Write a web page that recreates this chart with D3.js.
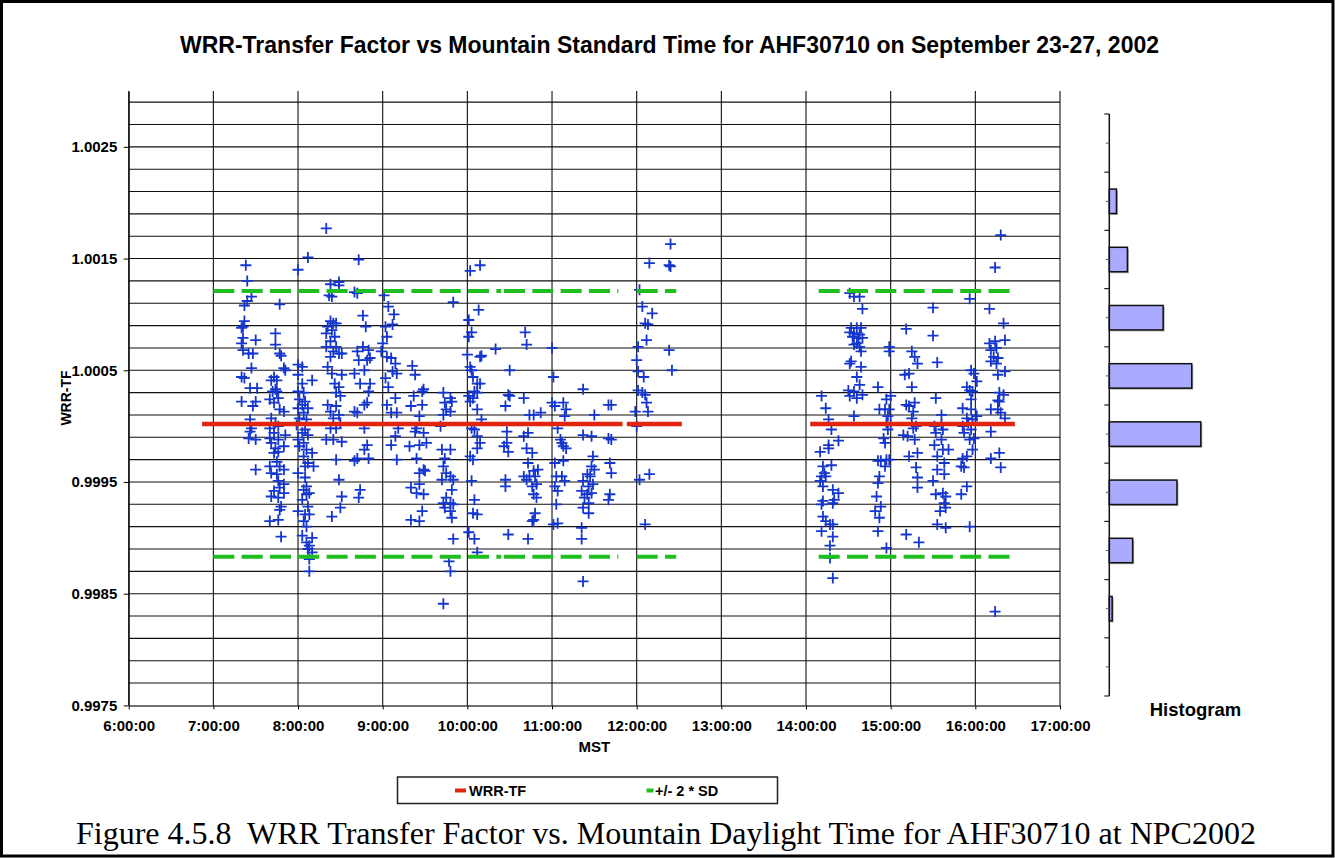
<!DOCTYPE html>
<html>
<head>
<meta charset="utf-8">
<title>WRR-Transfer Factor vs Mountain Standard Time for AHF30710</title>
<script src="https://d3js.org/d3.v7.min.js"></script>
<style>
  body { margin: 0; background: #fff; }
  svg { display: block; font-family: "Liberation Sans", Arial, sans-serif; }
</style>
</head>
<body>
<div id="chart"></div>
<script>
// WRR transfer factor readings, [time MST, WRR-TF]
var morning = [
  ["7:23",1.00144],["7:24",1.00130],["7:27",1.00116],["7:24",1.00112],["7:22",1.00108],["7:22",1.00094],["7:21",1.00089],
  ["7:20",1.00088],["7:21",1.00079],["7:30",1.00077],["7:20",1.00074],["7:25",1.00065],["7:28",1.00065],["7:21",1.00068],
  ["7:27",1.00052],["7:20",1.00044],["7:22",1.00043],["7:26",1.00034],["7:31",1.00034],["7:20",1.00022],["7:30",1.00022],
  ["7:28",1.00018],["7:26",1.00006],["7:27",0.99998],["7:25",0.99989],["7:30",0.99988],["7:26",0.99995],["7:30",0.99961],
  ["7:47",1.00109],["7:44",1.00083],["7:44",1.00073],["7:47",1.00065],["7:48",1.00063],["7:50",1.00052],["7:51",1.00050],
  ["7:43",1.00044],["7:41",1.00041],["7:45",1.00041],["7:44",1.00033],["7:42",1.00031],["7:45",1.00031],["7:40",1.00024],
  ["7:46",1.00025],["7:43",1.00021],["7:50",1.00013],["7:47",1.00015],["7:41",1.00007],["7:44",1.00003],["7:40",0.99998],
  ["7:46",1.00000],["7:43",0.99994],["7:51",0.99992],["7:40",0.99989],["7:46",0.99988],["7:41",0.99985],["7:50",0.99982],
  ["7:44",0.99980],["7:46",0.99977],["7:43",0.99976],["7:45",0.99968],["7:40",0.99964],["7:47",0.99964],["7:41",0.99958],
  ["7:45",0.99957],["7:50",0.99961],["7:46",0.99951],["7:50",0.99948],["7:47",0.99945],["7:43",0.99942],["7:50",0.99940],
  ["7:41",0.99937],["7:46",0.99936],["7:48",0.99928],["7:47",0.99925],["7:46",0.99916],["7:40",0.99915],["7:48",0.99901],
  ["8:00",1.00140],["8:07",1.00151],["8:20",1.00177],
  ["8:00",1.00055],["8:03",1.00053],["8:00",1.00046],["8:10",1.00041],["8:03",1.00038],["8:00",1.00031],["8:04",1.00030],
  ["8:01",1.00024],["8:05",1.00022],["8:03",1.00019],["8:00",1.00016],["8:07",1.00016],["8:04",1.00012],["8:01",1.00007],
  ["8:06",1.00006],["7:59",1.00001],["8:05",0.99997],["8:03",0.99994],["8:07",0.99992],["8:00",0.99988],["8:04",0.99985],
  ["8:01",0.99982],["8:06",0.99979],["8:10",0.99976],["8:04",0.99973],["8:07",0.99967],["8:05",0.99964],["8:11",0.99964],
  ["8:00",0.99958],["8:05",0.99954],["8:06",0.99946],["8:04",0.99943],["8:08",0.99940],["8:06",0.99939],["8:03",0.99934],
  ["8:07",0.99928],["8:00",0.99924],["8:05",0.99921],["8:08",0.99921],["8:04",0.99915],["8:06",0.99910],["8:03",0.99902],
  ["8:10",0.99900],["8:06",0.99896],["8:08",0.99893],["8:07",0.99890],["8:10",0.99887],["8:08",0.99881],["8:08",0.99870],
  ["8:23",1.00127],["8:29",1.00129],["8:29",1.00126],["8:24",1.00116],["8:22",1.00117],
  ["8:23",1.00094],["8:25",1.00092],["8:21",1.00089],["8:27",1.00092],["8:24",1.00086],["8:20",1.00083],["8:26",1.00080],
  ["8:23",1.00076],["8:27",1.00071],["8:20",1.00071],["8:25",1.00067],["8:29",1.00065],["8:23",1.00062],["8:31",1.00065],
  ["8:21",1.00053],["8:24",1.00047],["8:31",1.00046],["8:26",1.00038],["8:29",1.00035],["8:27",1.00030],["8:30",1.00027],
  ["8:21",1.00019],["8:27",1.00018],["8:23",1.00013],["8:29",1.00010],["8:25",1.00007],["8:30",1.00003],["8:23",0.99998],
  ["8:27",0.99998],["8:20",0.99988],["8:25",0.99988],["8:31",0.99986],["8:27",0.99970],["8:29",0.99952],["8:31",0.99937],
  ["8:30",0.99927],["8:24",0.99919],
  ["8:43",1.00149],["8:40",1.00120],["8:42",1.00119],
  ["8:46",1.00099],["8:48",1.00089],["8:46",1.00071],["8:42",1.00067],["8:43",1.00059],["8:50",1.00068],["8:49",1.00059],
  ["8:51",1.00061],["8:40",1.00047],["8:47",1.00050],["8:44",1.00038],["8:51",1.00038],["8:50",1.00031],["8:49",1.00021],
  ["8:47",1.00019],["8:40",1.00013],["8:42",1.00012],["8:47",0.99998],["8:49",0.99983],["8:47",0.99979],["8:50",0.99971],
  ["8:42",0.99971],["8:40",0.99969],["8:44",0.99943],["8:43",0.99936],
  ["9:01",1.00117],["9:04",1.00107],["9:08",1.00100],["9:07",1.00091],["9:02",1.00089],["9:03",1.00080],
  ["9:00",1.00074],["8:59",1.00067],["9:03",1.00062],["9:06",1.00061],["9:09",1.00056],["9:10",1.00047],["9:07",1.00049],
  ["9:02",1.00043],["9:04",1.00035],["9:03",1.00019],["9:09",1.00025],["9:06",1.00012],["9:10",1.00012],["9:11",0.99998],
  ["9:09",0.99991],["9:06",0.99983],["9:10",0.99970],
  ["9:21",1.00054],["9:23",1.00046],["9:22",1.00027],["9:28",1.00031],["9:29",1.00033],["9:20",1.00018],["9:28",1.00019],
  ["9:26",1.00009],["9:24",0.99998],["9:23",0.99995],["9:29",0.99994],["9:19",0.99982],["9:26",0.99983],["9:31",0.99985],
  ["9:24",0.99971],["9:29",0.99961],["9:26",0.99958],["9:30",0.99960],["9:20",0.99945],["9:26",0.99948],["9:24",0.99940],
  ["9:29",0.99939],["9:20",0.99916],["9:26",0.99915],["9:28",0.99924],
  ["9:50",1.00111],["9:43",1.00030],["9:48",1.00025],["9:44",1.00021],["9:49",1.00022],["9:45",1.00015],["9:48",1.00013],
  ["9:43",1.00010],["9:41",1.00000],["9:42",0.99979],["9:48",0.99979],["9:44",0.99971],["9:43",0.99964],["9:45",0.99958],
  ["9:48",0.99955],["9:42",0.99952],["9:50",0.99952],["9:49",0.99943],["9:45",0.99936],["9:43",0.99931],["9:48",0.99931],
  ["9:50",0.99930],["9:44",0.99927],["9:48",0.99924],["9:49",0.99918],["9:50",0.99899],["9:47",0.99879],["9:48",0.99870],
  ["9:43",0.99841],
  ["10:02",1.00139],["10:09",1.00144],["10:08",1.00104],["10:01",1.00095],["10:03",1.00084],["10:01",1.00080],["10:00",1.00064],
  ["10:09",1.00062],["10:10",1.00063],["10:02",1.00053],["10:03",1.00050],["10:04",1.00044],["10:07",1.00038],["10:09",1.00038],
  ["10:05",1.00031],["10:01",1.00027],["10:04",1.00025],["10:07",1.00030],["10:02",1.00022],["10:07",1.00015],["10:10",1.00006],
  ["10:03",0.99998],["10:05",0.99997],["10:07",0.99991],["10:09",0.99985],["10:07",0.99980],["10:02",0.99973],["10:04",0.99970],
  ["10:03",0.99951],["10:05",0.99934],["10:04",0.99922],["10:07",0.99921],["10:01",0.99905],["10:05",0.99899],["10:07",0.99887],
  ["10:20",1.00069],["10:30",1.00050],["10:29",1.00028],["10:27",1.00018],["10:30",1.00027],["10:28",0.99995],["10:26",0.99982],
  ["10:28",0.99985],["10:29",0.99977],["10:27",0.99952],["10:27",0.99946],["10:29",0.99903],
  ["10:41",1.00084],["10:42",1.00073],["10:40",1.00025],["10:44",1.00010],["10:47",1.00010],["10:52",1.00012],["10:40",0.99991],
  ["10:43",0.99994],["10:42",0.99980],["10:46",0.99976],["10:43",0.99967],["10:40",0.99955],["10:42",0.99952],["10:47",0.99960],
  ["10:50",0.99961],["10:44",0.99955],["10:48",0.99955],["10:49",0.99948],["10:46",0.99946],["10:47",0.99939],["10:49",0.99936],
  ["10:48",0.99922],["10:47",0.99916],["10:46",0.99915],["10:43",0.99899],
  ["11:00",1.00070],["11:01",1.00044],["11:00",1.00021],["11:02",1.00018],["11:08",1.00021],["11:10",1.00015],["11:09",1.00009],
  ["11:04",0.99998],["11:06",0.99988],["11:07",0.99985],["11:08",0.99982],["11:10",0.99980],["11:02",0.99967],["11:08",0.99969],
  ["11:03",0.99955],["11:07",0.99955],["11:09",0.99951],["11:02",0.99946],["11:04",0.99942],["11:03",0.99930],["11:01",0.99912],
  ["11:04",0.99913],
  ["11:22",1.00033],["11:30",1.00010],["11:22",0.99992],["11:28",0.99991],["11:29",0.99973],["11:28",0.99964],["11:30",0.99961],
  ["11:25",0.99957],["11:27",0.99955],["11:22",0.99951],["11:26",0.99946],["11:29",0.99948],["11:21",0.99942],["11:25",0.99939],
  ["11:28",0.99940],["11:23",0.99936],["11:26",0.99931],["11:22",0.99927],["11:26",0.99922],["11:21",0.99909],["11:21",0.99899],
  ["11:22",0.99861],
  ["11:40",1.00019],["11:42",1.00019],["11:40",0.99989],["11:42",0.99988],["11:41",0.99967],["11:42",0.99958],["11:41",0.99939],
  ["11:40",0.99934],
  ["12:02",1.00122],["12:04",1.00107],["12:11",1.00101],["12:06",1.00092],["12:08",1.00091],["12:07",1.00077],["12:01",1.00071],
  ["12:00",1.00059],["12:01",1.00049],["12:05",1.00044],["12:01",1.00032],["12:04",1.00030],["12:06",1.00028],["12:07",1.00021],
  ["11:59",1.00013],["12:08",1.00013],["12:00",1.00000],["12:02",0.99952],["12:09",0.99957],["12:06",0.99912],
  ["12:24",1.00163],["12:09",1.00146],["12:23",1.00144],["12:24",1.00143],["12:23",1.00068],["12:25",1.00050]
];

var afternoon = [
  ["14:11",1.00027],["14:14",1.00016],["14:16",1.00006],["14:18",0.99997],["14:23",0.99987],["14:16",0.99983],["14:16",0.99980],
  ["14:10",0.99977],["14:12",0.99964],["14:18",0.99965],["14:13",0.99958],["14:11",0.99955],["14:14",0.99955],["14:10",0.99951],
  ["14:12",0.99946],["14:19",0.99943],["14:23",0.99940],["14:12",0.99933],["14:20",0.99934],["14:19",0.99931],["14:11",0.99930],
  ["14:12",0.99919],["14:14",0.99915],["14:17",0.99912],["14:19",0.99912],["14:11",0.99906],["14:19",0.99901],["14:17",0.99893],
  ["14:17",0.99882],["14:19",0.99864],
  ["14:31",1.00119],["14:34",1.00116],["14:38",1.00116],["14:40",1.00105],["14:32",1.00088],["14:36",1.00088],["14:39",1.00088],
  ["14:31",1.00084],["14:34",1.00083],["14:38",1.00082],["14:33",1.00080],["14:37",1.00079],["14:40",1.00079],["14:36",1.00074],
  ["14:38",1.00071],["14:34",1.00073],["14:39",1.00067],["14:32",1.00058],["14:31",1.00056],["14:39",1.00053],["14:36",1.00044],
  ["14:38",1.00037],["14:30",1.00032],["14:34",1.00031],["14:31",1.00027],["14:36",1.00025],["14:40",1.00028],["14:34",1.00009],
  ["14:59",1.00071],["14:59",1.00067],["14:51",1.00035],["14:57",1.00024],["15:00",1.00027],["14:52",1.00015],["14:56",1.00015],
  ["14:59",1.00015],["14:58",1.00009],["14:57",1.00003],["15:00",1.00003],["14:58",0.99997],["14:55",0.99989],["14:56",0.99985],
  ["14:53",0.99969],["14:51",0.99969],["14:57",0.99970],["14:59",0.99970],["14:56",0.99964],["14:52",0.99955],["14:51",0.99949],
  ["14:50",0.99937],["14:49",0.99924],["14:53",0.99928],["14:52",0.99918],["14:51",0.99906],["14:57",0.99891],
  ["15:11",1.00087],["15:15",1.00067],["15:17",1.00062],["15:19",1.00056],["15:10",1.00046],["15:13",1.00047],["15:15",1.00035],
  ["15:11",1.00019],["15:13",1.00018],["15:17",1.00021],["15:16",1.00013],["15:15",1.00007],["15:18",1.00000],["15:16",0.99998],
  ["15:09",0.99992],["15:12",0.99991],["15:17",0.99988],["15:19",0.99976],["15:13",0.99973],["15:18",0.99963],["15:19",0.99954],
  ["15:19",0.99945],["15:11",0.99903],["15:20",0.99896],
  ["15:30",1.00106],["15:30",1.00081],["15:33",1.00057],["15:32",1.00025],["15:36",1.00010],["15:31",1.00000],["15:36",1.00001],
  ["15:37",0.99997],["15:32",0.99994],["15:36",0.99988],["15:31",0.99983],["15:37",0.99979],["15:41",0.99979],["15:33",0.99973],
  ["15:38",0.99967],["15:33",0.99961],["15:38",0.99957],["15:30",0.99951],["15:32",0.99939],["15:37",0.99940],["15:39",0.99937],
  ["15:38",0.99931],["15:35",0.99924],["15:39",0.99927],["15:33",0.99912],["15:39",0.99909],
  ["15:56",1.00114],["15:57",1.00050],["15:59",1.00047],["16:01",1.00040],["15:54",1.00035],["15:56",1.00032],["15:58",1.00031],
  ["15:57",1.00024],["15:51",1.00016],["15:57",1.00015],["16:01",1.00009],["15:54",1.00007],["15:58",1.00006],["15:51",1.00000],
  ["15:55",1.00003],["15:57",0.99997],["15:52",0.99994],["15:59",0.99989],["15:56",0.99988],["15:58",0.99979],["15:51",0.99971],
  ["15:54",0.99973],["15:52",0.99963],["15:50",0.99964],["15:54",0.99946],["15:50",0.99939],["15:56",0.99910],
  ["16:18",1.00171],["16:14",1.00142],["16:10",1.00105],["16:20",1.00092],["16:10",1.00074],["16:14",1.00076],["16:21",1.00077],
  ["16:11",1.00068],["16:15",1.00070],["16:13",1.00062],["16:16",1.00061],["16:11",1.00058],["16:15",1.00056],["16:16",1.00046],
  ["16:21",1.00049],["16:17",1.00030],["16:20",1.00028],["16:16",1.00023],["16:11",1.00015],["16:16",1.00015],["16:18",1.00012],
  ["16:17",1.00022],["16:21",1.00007],["16:11",0.99995],["16:17",0.99976],["16:11",0.99971],["16:18",0.99963],["16:14",0.99834]
];

// mean and +/- 2 SD lines
var meanValue = 1.00002;
var upperLimit = 1.00121;
var lowerLimit = 0.99883;
var meanSegments = [["6:52","11:50"],["11:53","12:32"],["14:03","16:28"]];
var limitSegments = [["7:00","10:24"],["10:26","11:47"],["12:00","12:28"],["14:09","16:25"]];

// histogram (top to bottom)
var histBins = ["1","2","3","4","5","6","7","8","9","10"];
var histCounts = [0, 15, 38, 113, 173, 192, 142, 49, 6, 0];

var yTicks = [0.9975, 0.9985, 0.9995, 1.0005, 1.0015, 1.0025];
var hourTicks = ["6:00","7:00","8:00","9:00","10:00","11:00","12:00","13:00","14:00","15:00","16:00","17:00"];

var W = 1335, H = 858;
var font = "'Liberation Sans', Arial, sans-serif";
var parseT = d3.timeParse("%H:%M");

var svg = d3.select("#chart").append("svg")
    .attr("width", W)
    .attr("height", H);

// outer frame
svg.append("rect")
    .attr("x", 1.5).attr("y", 1.5)
    .attr("width", W - 3.5).attr("height", H - 3.5)
    .attr("fill", "none")
    .attr("stroke", "#000")
    .attr("stroke-width", 3);

var x = d3.scaleTime()
    .domain([parseT("6:00"), parseT("17:00")])
    .range([128.7, 1060]);
var y = d3.scaleLinear()
    .domain([0.9975, 1.003])
    .range([705.4, 91]);

// gridlines
var hGrid = d3.range(1, 28).map(function(k) { return 0.9975 + k * 0.0002; });
svg.append("g").selectAll("line")
  .data(hGrid)
  .enter().append("line")
    .attr("x1", x.range()[0]).attr("x2", x.range()[1])
    .attr("y1", function(d) { return y(d); })
    .attr("y2", function(d) { return y(d); })
    .attr("stroke", "#111").attr("stroke-width", 1.1);

svg.append("g").selectAll("line")
  .data(hourTicks.map(parseT))
  .enter().append("line")
    .attr("x1", function(d) { return x(d); })
    .attr("x2", function(d) { return x(d); })
    .attr("y1", y.range()[1]).attr("y2", y.range()[0])
    .attr("stroke", "#111").attr("stroke-width", 1.1);

// axes
var yAxis = svg.append("g")
    .attr("transform", "translate(" + x.range()[0] + ",0)")
    .call(d3.axisLeft(y).tickValues(yTicks).tickSize(5).tickSizeOuter(0)
      .tickPadding(6.4).tickFormat(d3.format(".4f")));
yAxis.attr("font-family", font).attr("font-size", 15).attr("font-weight", "bold");

var xAxis = svg.append("g")
    .attr("transform", "translate(0," + y.range()[0] + ")")
    .call(d3.axisBottom(x).tickValues(hourTicks.map(parseT)).tickSize(4).tickSizeOuter(0)
      .tickPadding(10.5).tickFormat(d3.timeFormat("%-H:%M:%S")));
xAxis.attr("font-family", font).attr("font-size", 15).attr("font-weight", "bold");
xAxis.select(".domain").attr("stroke", "#444").attr("stroke-width", 1.5);

// points
var pts = morning.concat(afternoon);
svg.append("g").selectAll("path")
  .data(pts)
  .enter().append("path")
    .attr("d", "M-5.5,0H5.5M0,-5.5V5.5")
    .attr("transform", function(d) { return "translate(" + x(parseT(d[0])) + "," + y(d[1]) + ")"; })
    .attr("stroke", "#1436cf")
    .attr("stroke-width", 1.8)
    .attr("fill", "none");

// +/- 2 SD lines
[upperLimit, lowerLimit].forEach(function(v) {
  svg.append("g").selectAll("line")
    .data(limitSegments)
    .enter().append("line")
      .attr("x1", function(d) { return x(parseT(d[0])); })
      .attr("x2", function(d) { return x(parseT(d[1])); })
      .attr("y1", y(v)).attr("y2", y(v))
      .attr("stroke", "#1fbf1f")
      .attr("stroke-width", 4)
      .attr("stroke-dasharray", "21,7.3");
});

// mean line
svg.append("g").selectAll("line")
  .data(meanSegments)
  .enter().append("line")
    .attr("x1", function(d) { return x(parseT(d[0])); })
    .attr("x2", function(d) { return x(parseT(d[1])); })
    .attr("y1", y(meanValue)).attr("y2", y(meanValue))
    .attr("stroke", "#e2240c")
    .attr("stroke-width", 4.5);

// histogram
var hy = d3.scaleBand()
    .domain(histBins)
    .range([114, 696])
    .paddingInner(0.58)
    .paddingOuter(0.29);
var hx = d3.scaleLinear()
    .domain([0, 200])
    .range([1109.3, 1204.6]);

var hist = svg.append("g");
hist.selectAll("rect.shadow")
  .data(histCounts)
  .enter().append("rect")
    .attr("class", "shadow")
    .attr("x", hx(0) + 1.5)
    .attr("y", function(d, i) { return hy(histBins[i]) + 1.5; })
    .attr("width", function(d) { return hx(d) - hx(0); })
    .attr("height", hy.bandwidth())
    .attr("fill", "#aaa")
    .style("display", function(d) { return d > 0 ? null : "none"; });
hist.selectAll("rect.bar")
  .data(histCounts)
  .enter().append("rect")
    .attr("class", "bar")
    .attr("x", hx(0))
    .attr("y", function(d, i) { return hy(histBins[i]); })
    .attr("width", function(d) { return hx(d) - hx(0); })
    .attr("height", hy.bandwidth())
    .attr("fill", "#aaaaff")
    .attr("stroke", "#111")
    .attr("stroke-width", 1.5)
    .style("display", function(d) { return d > 0 ? null : "none"; });

hist.append("line")
    .attr("x1", hx(0)).attr("x2", hx(0))
    .attr("y1", hy.range()[0]).attr("y2", hy.range()[1])
    .attr("stroke", "#111").attr("stroke-width", 1.5);
var step = hy.step();
hist.selectAll("line.major")
  .data(d3.range(histBins.length + 1))
  .enter().append("line")
    .attr("class", "major")
    .attr("x1", hx(0) - 5).attr("x2", hx(0))
    .attr("y1", function(i) { return hy.range()[0] + i * step; })
    .attr("y2", function(i) { return hy.range()[0] + i * step; })
    .attr("stroke", "#222").attr("stroke-width", 1.2);
hist.selectAll("line.minor")
  .data(histBins)
  .enter().append("line")
    .attr("class", "minor")
    .attr("x1", hx(0) - 3.5).attr("x2", hx(0))
    .attr("y1", function(d) { return hy(d) + hy.bandwidth() / 2; })
    .attr("y2", function(d) { return hy(d) + hy.bandwidth() / 2; })
    .attr("stroke", "#555").attr("stroke-width", 1);

// texts
svg.append("text")
    .attr("x", 669.5).attr("y", 53)
    .attr("text-anchor", "middle")
    .attr("font-family", font).attr("font-size", 23).attr("font-weight", "bold")
    .text("WRR-Transfer Factor vs Mountain Standard Time for AHF30710 on September 23-27, 2002");

svg.append("text")
    .attr("transform", "translate(71,398) rotate(-90)")
    .attr("text-anchor", "middle")
    .attr("font-family", font).attr("font-size", 14).attr("font-weight", "bold")
    .text("WRR-TF");

svg.append("text")
    .attr("x", (x.range()[0] + x.range()[1]) / 2).attr("y", 752)
    .attr("text-anchor", "middle")
    .attr("font-family", font).attr("font-size", 15).attr("font-weight", "bold")
    .text("MST");

svg.append("text")
    .attr("x", 1195.5).attr("y", 716)
    .attr("text-anchor", "middle")
    .attr("font-family", font).attr("font-size", 18.5).attr("font-weight", "bold")
    .text("Histogram");

// legend
var lg = svg.append("g");
lg.append("rect")
    .attr("x", 397.5).attr("y", 777).attr("width", 380).attr("height", 26.5)
    .attr("fill", "#fff").attr("stroke", "#222").attr("stroke-width", 1.5);
lg.append("line")
    .attr("x1", 455).attr("x2", 466).attr("y1", 790.5).attr("y2", 790.5)
    .attr("stroke", "#e2240c").attr("stroke-width", 4);
lg.append("text")
    .attr("x", 469).attr("y", 795.5)
    .attr("font-family", font).attr("font-size", 14.5).attr("font-weight", "bold")
    .text("WRR-TF");
lg.append("line")
    .attr("x1", 646.5).attr("x2", 653.5).attr("y1", 790.5).attr("y2", 790.5)
    .attr("stroke", "#1fbf1f").attr("stroke-width", 4);
lg.append("text")
    .attr("x", 655).attr("y", 795.5)
    .attr("font-family", font).attr("font-size", 14.5).attr("font-weight", "bold")
    .text("+/- 2 * SD");

// caption
svg.append("text")
    .attr("x", 76).attr("y", 844)
    .attr("font-family", "'Liberation Serif', 'Times New Roman', serif")
    .attr("font-size", 32)
    .attr("xml:space", "preserve")
    .style("white-space", "pre")
    .text("Figure 4.5.8  WRR Transfer Factor vs. Mountain Daylight Time for AHF30710 at NPC2002");
</script>
</body>
</html>
